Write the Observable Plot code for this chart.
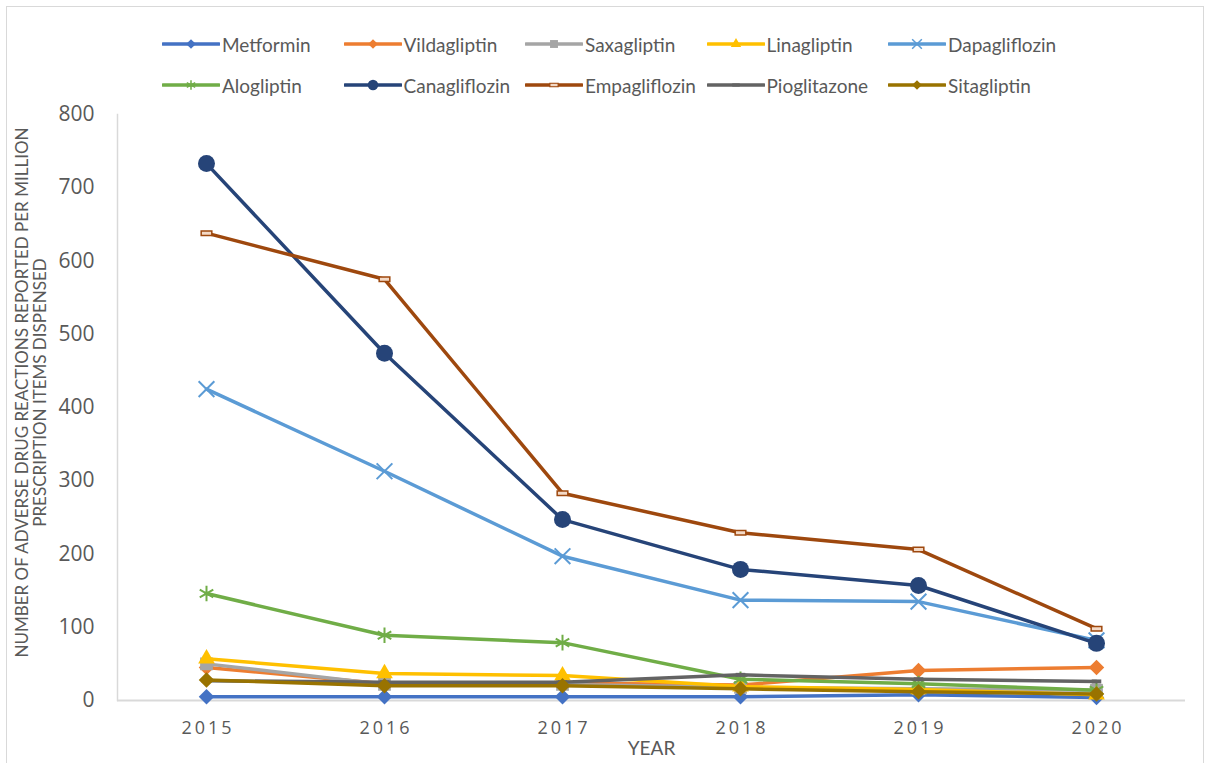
<!DOCTYPE html>
<html>
<head>
<meta charset="utf-8">
<script src="https://cdn.jsdelivr.net/npm/d3@7"></script>
<script src="https://cdn.jsdelivr.net/npm/@observablehq/plot@0.6"></script>
<style>
  html, body { margin: 0; padding: 0; background: #fff; }
  body { width: 1206px; height: 763px; overflow: hidden; position: relative; font-family: Lato, "Open Sans", sans-serif; }
  #border { position: absolute; left: 6px; top: 6px; width: 1198px; height: 820px; border: 1.5px solid #d9d9d9; box-sizing: border-box; pointer-events: none; }
  #legend { position: relative; height: 100px; }
  .item { position: absolute; display: flex; align-items: center; height: 24px; color: #595959; font-size: 19px; }
  .item svg { margin-right: 2px; }
  #chart svg [aria-label="x-axis tick label"] text { letter-spacing: 3px; }
</style>
</head>
<body>
<div id="border"></div>
<div id="legend"></div>
<div id="chart"></div>
<script>
const years = ["2015", "2016", "2017", "2018", "2019", "2020"];
const yTicks = [0, 100, 200, 300, 400, 500, 600, 700, 800];

const drugNames = ["Metformin", "Vildagliptin", "Saxagliptin", "Linagliptin", "Dapagliflozin",
                   "Alogliptin", "Canagliflozin", "Empagliflozin", "Pioglitazone", "Sitagliptin"];
const drugColors = ["#4472C4", "#ED7D31", "#A5A5A5", "#FFC000", "#5B9BD5",
                    "#70AD47", "#264478", "#9E480E", "#636363", "#997300"];

const metformin     = [5, 5, 5, 5, 8, 4];
const vildagliptin  = [45, 23, 24, 21, 41, 45];
const saxagliptin   = [50, 22, 22, 18, 16, 14];
const linagliptin   = [57, 37, 34, 19, 15, 8];
const dapagliflozin = [425, 313, 197, 137, 135, 82];
const alogliptin    = [146, 89, 79, 29, 23, 14];
const canagliflozin = [733, 474, 247, 179, 157, 78];
const empagliflozin = [638, 575, 283, 229, 206, 98];
const pioglitazone  = [27, 25, 25, 35, 29, 26];
const sitagliptin   = [28, 20, 20, 16, 12, 9];

const seriesValues = [metformin, vildagliptin, saxagliptin, linagliptin, dapagliflozin,
                      alogliptin, canagliflozin, empagliflozin, pioglitazone, sitagliptin];

const yTitle = "NUMBER OF ADVERSE DRUG REACTIONS REPORTED PER MILLION\nPRESCRIPTION ITEMS DISPENSED";
const xTitle = "YEAR";

// custom "dash" marker (small bar)
const dashSymbol = {
  draw(ctx, size) {
    const w = Math.sqrt(size) * 0.6, h = w * 0.42;
    ctx.moveTo(-w, -h); ctx.lineTo(w, -h); ctx.lineTo(w, h); ctx.lineTo(-w, h); ctx.closePath();
  }
};

const markerStyles = [
  {symbol: "diamond2", r: 7, fill: true},
  {symbol: "diamond2", r: 7, fill: true},
  {symbol: "square", r: 7.2, fill: true},
  {symbol: "triangle", r: 6.2, fill: true},
  {symbol: "times", r: 7.2, fill: false, sw: 2},
  {symbol: "asterisk", r: 7.4, fill: false, sw: 2},
  {symbol: "circle", r: 8.5, fill: true},
  {symbol: dashSymbol, r: 5, fill: "#f3d9c6", sw: 1.5},
  {symbol: dashSymbol, r: 4.5, fill: true},
  {symbol: "diamond2", r: 7, fill: true}
];

const series = drugNames.map((name, i) => ({
  name, color: drugColors[i], style: markerStyles[i],
  rows: years.map((year, j) => ({year, value: seriesValues[i][j], drug: name}))
}));

// ---------- legend ----------
const d3sym = {
  diamond2: d3.symbolDiamond2, square: d3.symbolSquare, triangle: d3.symbolTriangle,
  times: d3.symbolTimes, asterisk: d3.symbolAsterisk, circle: d3.symbolCircle
};
const legend = document.getElementById("legend");
series.forEach((s, i) => {
  const col = i % 5, row = Math.floor(i / 5);
  const item = document.createElement("div");
  item.className = "item";
  item.style.left = (162 + col * 181.5) + "px";
  item.style.top = (32 + row * 41) + "px";
  const svg = d3.create("svg").attr("width", 58).attr("height", 24);
  svg.append("line").attr("x1", 1).attr("x2", 57).attr("y1", 12).attr("y2", 12)
    .attr("stroke", s.color).attr("stroke-width", 3.5).attr("stroke-linecap", "round");
  const st = s.style;
  const type = typeof st.symbol === "string" ? d3sym[st.symbol] : st.symbol;
  const scale = 0.62;
  const size = Math.PI * (st.r * scale) ** 2 * (st.symbol === dashSymbol ? 1.6 : 1);
  const p = svg.append("path").attr("d", d3.symbol(type, size)()).attr("transform", "translate(29,12)");
  if (st.fill === true) p.attr("fill", s.color).attr("stroke", "none");
  else if (st.fill) p.attr("fill", st.fill).attr("stroke", s.color).attr("stroke-width", 1.2);
  else p.attr("fill", "none").attr("stroke", s.color).attr("stroke-width", 1.5);
  item.appendChild(svg.node());
  const label = document.createElement("span");
  label.textContent = s.name;
  item.appendChild(label);
  legend.appendChild(item);
});

// ---------- chart ----------
const marks = [
  Plot.frame({anchor: "left", stroke: "#d9d9d9", strokeWidth: 1.5}),
  Plot.ruleY([0], {stroke: "#d9d9d9", strokeWidth: 2}),
  Plot.axisY({ticks: yTicks, tickSize: 0, tickPadding: 23, fontSize: 21, label: null,
              fontFamily: "'Open Sans', sans-serif"}),
  Plot.axisX({tickSize: 0, tickPadding: 21, fontSize: 18, label: null, dx: 1.5,
              fontFamily: "'Open Sans', sans-serif"}),
  Plot.text([yTitle], {frameAnchor: "left", rotate: -90, dx: -86, dy: -15, fontSize: 17,
                       textAnchor: "middle", lineAnchor: "middle", lineHeight: 1.06, fill: "#595959"}),
  Plot.text([xTitle], {frameAnchor: "bottom", dy: 48, fontSize: 19, textAnchor: "middle",
                       lineAnchor: "middle", fill: "#595959"})
];

series.forEach(s => {
  marks.push(Plot.line(s.rows, {x: "year", y: "value", stroke: s.color, strokeWidth: 3.5,
                                strokeLinejoin: "round", strokeLinecap: "round"}));
  const st = s.style;
  const opts = {x: "year", y: "value", symbol: st.symbol, r: st.r};
  if (st.fill === true) { opts.fill = s.color; opts.stroke = "none"; }
  else if (st.fill) { opts.fill = st.fill; opts.stroke = s.color; opts.strokeWidth = st.sw; }
  else { opts.fill = "none"; opts.stroke = s.color; opts.strokeWidth = st.sw; }
  marks.push(Plot.dot(s.rows, opts));
});

const chart = Plot.plot({
  width: 1206,
  height: 663,
  marginTop: 14,
  marginBottom: 63,
  marginLeft: 117,
  marginRight: 21,
  style: {color: "#595959", fontFamily: "Lato, 'Open Sans', sans-serif", background: "transparent"},
  x: {type: "point", domain: years, padding: 0.5},
  y: {domain: [0, 800]},
  marks
});
document.getElementById("chart").appendChild(chart);
</script>
</body>
</html>
